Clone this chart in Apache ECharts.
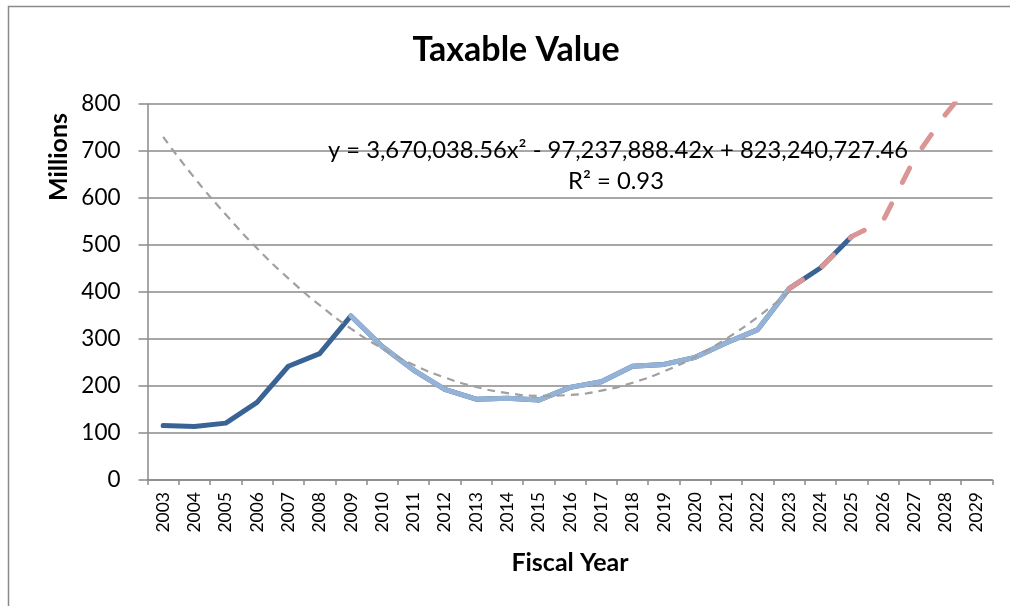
<!DOCTYPE html>
<html><head><meta charset="utf-8">
<script src="https://cdn.jsdelivr.net/npm/echarts@6/dist/echarts.min.js"></script>
<style>html,body{margin:0;padding:0;background:#fff}#c{width:1010px;height:606px}</style>
</head><body><div id="c"></div>
<script>
const years = ['2003','2004','2005','2006','2007','2008','2009','2010','2011','2012','2013','2014','2015','2016','2017','2018','2019','2020','2021','2022','2023','2024','2025','2026','2027','2028','2029'];
// Millions
const historical = [116,114,121,165,242,269,349,284,234,193,172,174,170,197,209,242,246,261,292,320,407,451,518];
const sinceRecession = [null,null,null,null,null,null,349,284,234,193,172,174,170,197,209,242,246,261,292,320,407];
const projected = [null,null,null,null,null,null,null,null,null,null,null,null,null,null,null,null,null,null,null,null,407,451,518,551,683,778,860];
const trendline = [730,643,565,493,429,372,322,280,245,218,198,185,179,181,190,207,231,262,301,347,400];
const yTicks = [0,100,200,300,400,500,600,700,800];
const titleText = 'Taxable Value';
const equationText = 'y = 3,670,038.56x² - 97,237,888.42x + 823,240,727.46';
const r2Text = 'R² = 0.93';

const FONT = 'Lato, "Open Sans", sans-serif';
const chart = echarts.init(document.getElementById('c'), null, {renderer: 'canvas'});
const txt = (x, y, text, font, extra) => Object.assign({type: 'text', x: x, y: y, z: 100,
  style: {text: text, font: font, fill: '#000', textAlign: 'center', textVerticalAlign: 'middle', verticalAlign: 'middle'}}, extra || {});
chart.setOption({
  animation: false,
  backgroundColor: '#fff',
  grid: {left: 147.5, right: 17.5, top: 104, bottom: 126, containLabel: false},
  xAxis: {
    type: 'category', data: years, boundaryGap: true,
    axisLine: {lineStyle: {color: '#8a8a8a', width: 1.5}},
    axisTick: {show: true, alignWithLabel: false, length: 5, lineStyle: {color: '#8a8a8a', width: 1.5}},
    axisLabel: {rotate: 90, interval: 0, margin: 12, fontFamily: FONT, fontSize: 17.5, color: '#000'},
    name: 'Fiscal Year', nameLocation: 'middle', nameGap: 70,
    nameTextStyle: {fontFamily: FONT, fontSize: 25, fontWeight: 'bold', color: '#000'}
  },
  yAxis: {
    type: 'value', min: yTicks[0], max: yTicks[yTicks.length - 1], interval: 100,
    axisLine: {show: true, lineStyle: {color: '#8a8a8a', width: 1.5}},
    axisTick: {show: true, length: 9, lineStyle: {color: '#8a8a8a', width: 1.5}},
    axisLabel: {margin: 27, fontFamily: FONT, fontSize: 22.5, color: '#000'},
    splitLine: {show: true, lineStyle: {color: '#8a8a8a', width: 1.5}}
  },
  graphic: [
    {type: 'rect', silent: true, shape: {x: 8.5, y: 6.5, width: 1100, height: 700},
     style: {fill: 'none', stroke: '#8a8a8a', lineWidth: 1.5}},
    txt(516, 50, titleText, 'bold 34px ' + FONT),
    txt(59, 157, 'Millions', 'bold 25px ' + FONT, {rotation: Math.PI / 2}),
    txt(618, 150, equationText, '23.8px ' + FONT),
    txt(616, 181, r2Text, '23.8px ' + FONT)
  ],
  series: [
    {type: 'line', data: historical, symbol: 'none', z: 2,
     lineStyle: {color: '#3A6395', width: 5, cap: 'round', join: 'round'}},
    {type: 'line', data: sinceRecession, symbol: 'none', z: 3,
     lineStyle: {color: '#95B3D7', width: 5, cap: 'round', join: 'round'}},
    {type: 'line', data: projected, symbol: 'none', z: 4,
     lineStyle: {color: '#DA9694', width: 5, type: [16, 24], cap: 'round', join: 'round'}},
    {type: 'line', data: trendline, symbol: 'none', smooth: true, z: 5,
     lineStyle: {color: '#A0A0A0', width: 2.2, type: [8, 6]}}
  ]
});
</script></body></html>
